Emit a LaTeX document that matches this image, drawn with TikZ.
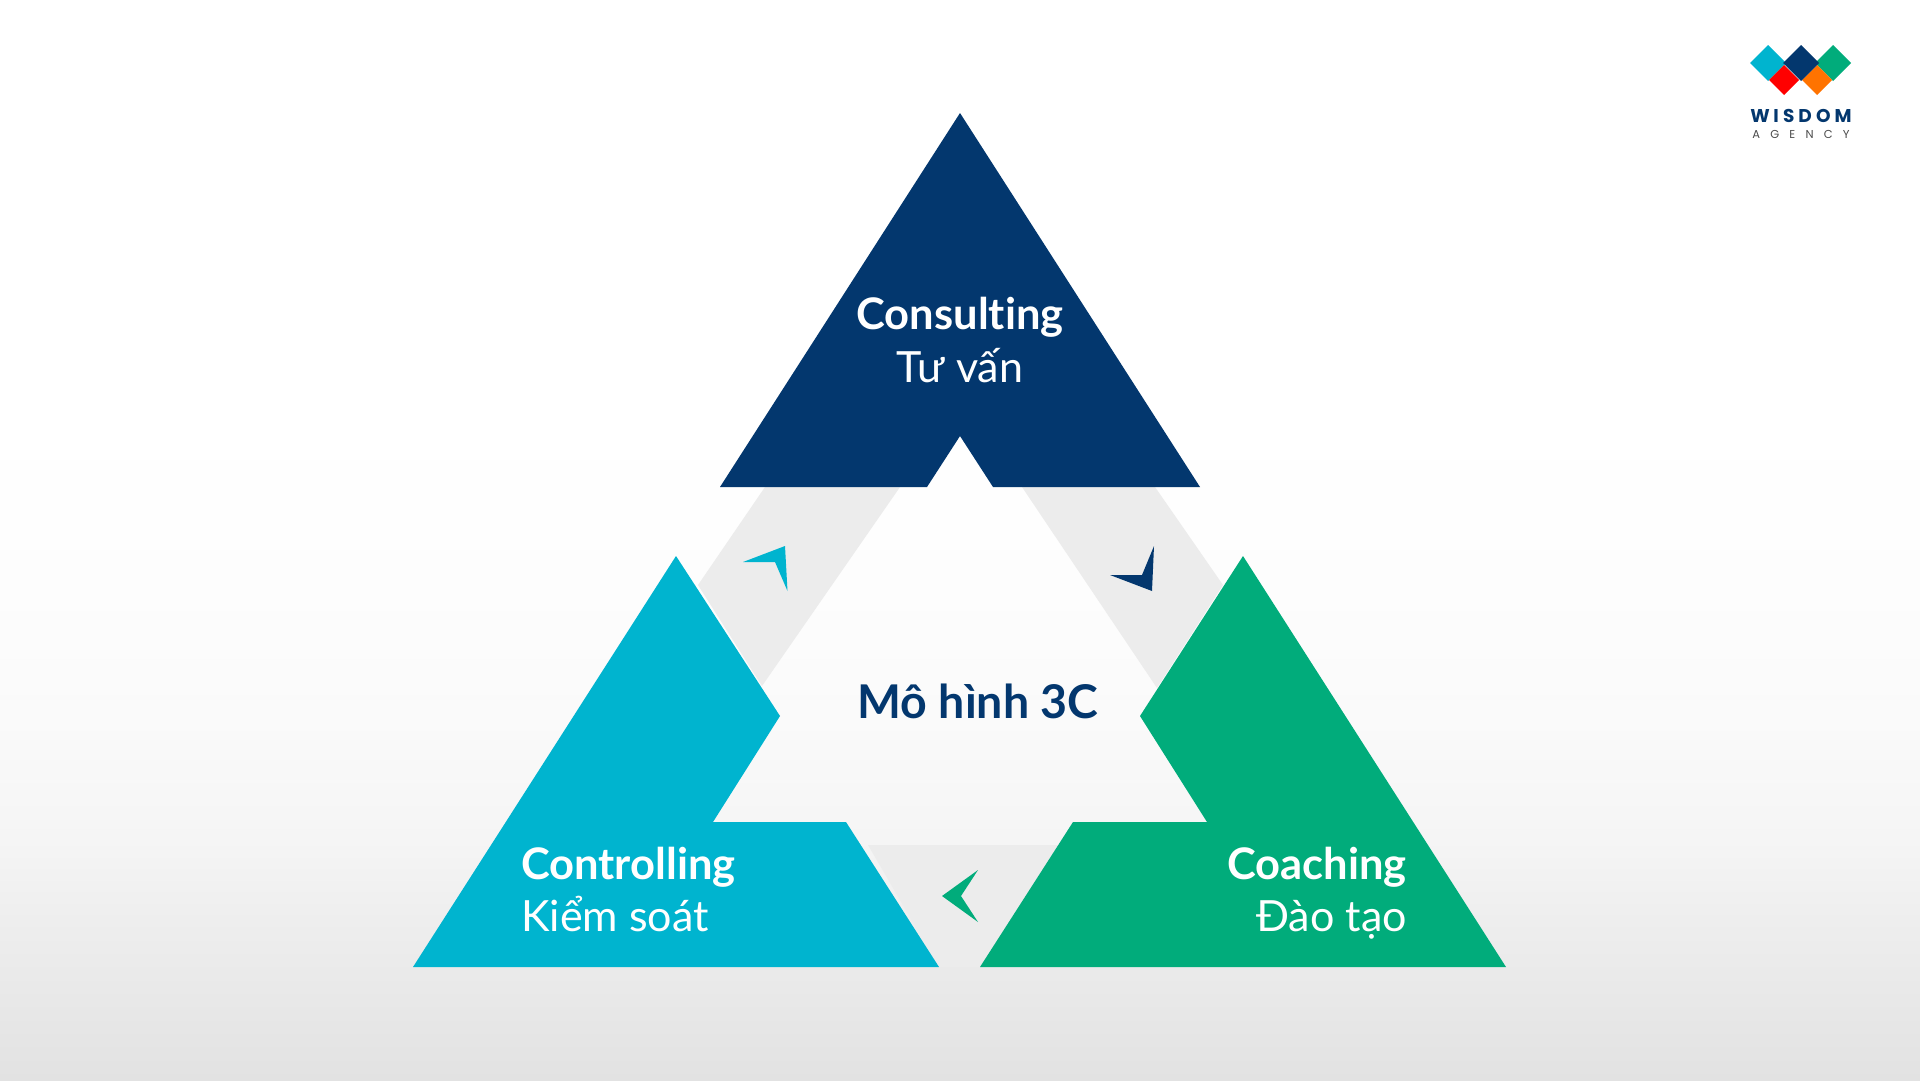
\documentclass[tikz,border=0pt]{standalone}
\usepackage{fontspec}
\setmainfont{Lato}[Ligatures=NoCommon]
\newfontfamily\logofont{Poppins}
\definecolor{navyblue}{HTML}{03376E}
\definecolor{cyanblue}{HTML}{00B4CF}
\definecolor{leafgreen}{HTML}{01AC7B}
\definecolor{bandgray}{HTML}{ECECEC}
\definecolor{logored}{HTML}{FF0000}
\definecolor{logoorange}{HTML}{FF7300}
\definecolor{fadea}{HTML}{E2E2E2}
\definecolor{fadeb}{HTML}{E8E8E8}
\definecolor{fadec}{HTML}{EEEEEE}
\definecolor{faded}{HTML}{F5F5F5}
\definecolor{fadee}{HTML}{F9F9F9}
\definecolor{fadef}{HTML}{FCFCFC}
\definecolor{fadeg}{HTML}{FEFEFE}
\pgfdeclareverticalshading{pagefade}{100bp}{
  color(0bp)=(fadea);
  color(25bp)=(fadea);
  color(28.7bp)=(fadeb);
  color(32.4bp)=(fadec);
  color(36.1bp)=(faded);
  color(40.35bp)=(fadee);
  color(45.35bp)=(fadef);
  color(50.95bp)=(fadeg);
  color(56.5bp)=(white);
  color(100bp)=(white)}
\begin{document}
\begin{tikzpicture}
[x=1pt,y=-1pt,
  titledecorate/.style={font=\fontsize{43.5}{50}\selectfont\bfseries,text=white,inner sep=0pt},
  subdecorate/.style={font=\fontsize{43}{50}\selectfont,text=white,inner sep=0pt},
  logodecorate/.style={inner sep=0pt,anchor=base}]
\useasboundingbox (0,0) rectangle (1920,1080);
\shade [shading=pagefade] (0,0) rectangle (1920,1080);
%% bands between the triangles
\fill [bandgray] (765,487) -- (900,487) -- (762,686) -- (698,585) -- cycle;
\fill [bandgray] (1022,487) -- (1155,487) -- (1223,585) -- (1157,688) -- cycle;
\fill [bandgray] (868,845) -- (1058,845) -- (980,967) -- (939,967) -- cycle;
%% triangles
\fill [navyblue] (960,113) -- (1200,487) -- (993,487) -- (960,436) -- (927,487) -- (720,487) -- cycle;
\fill [cyanblue] (676,556) -- (780,716) -- (713,822) -- (846,822) -- (939,967) -- (413,967) -- cycle;
\fill [leafgreen] (1243,556) -- (1506,967) -- (980,967) -- (1073,822) -- (1207,822) -- (1140,716) -- cycle;
%% small arrows
\fill [cyanblue] (743,562) -- (785,546) -- (787.5,591) -- (775,562) -- cycle;
\fill [navyblue] (1110,575) -- (1142,575) -- (1154,546) -- (1152,591) -- cycle;
\fill [leafgreen] (942,896) -- (978,870) -- (961,896) -- (978,922) -- cycle;
%% labels
\node (consulting) at (960,329) [titledecorate,anchor=base] {Consulting};
\node (tuvan) at (960,382) [subdecorate,anchor=base] {Tư vấn};
\node (controlling) at (521,879) [titledecorate,anchor=base west] {Controlling};
\node (kiemsoat) at (521,931) [subdecorate,anchor=base west] {Kiểm soát};
\node (coaching) at (1407,879) [titledecorate,anchor=base east] {Coaching};
\node (daotao) at (1407,931) [subdecorate,anchor=base east] {Đào tạo};
\node (model) at (978,718) [inner sep=0pt,anchor=base,text=navyblue,font=\fontsize{46.5}{56}\selectfont\bfseries] {Mô hình 3C};
%% logo
\foreach \colorname/\x/\y/\halfsize in {cyanblue/1768/63/18, leafgreen/1833/63/18,
  logored/1784/80/15, logoorange/1817/80/15, navyblue/1801/63/18}
{
  \fill [\colorname] (\x-\halfsize,\y) -- (\x,\y-\halfsize) -- (\x+\halfsize,\y) -- (\x,\y+\halfsize) -- cycle;
}
\node (wisdom) at (1801,122.5) [logodecorate,text=navyblue,font=\logofont\fontsize{18.5}{20}\selectfont\bfseries] {W\kern3.6pt I\kern4.1pt S\kern4.1pt D\kern4.1pt O\kern4.1pt M};
\node (agency) at (1801,138) [logodecorate,text=black!70,font=\logofont\fontsize{11.5}{13}\selectfont] {A\kern10.2pt G\kern10.2pt E\kern10.2pt N\kern10.2pt C\kern10.2pt Y};
\end{tikzpicture}
\end{document}
